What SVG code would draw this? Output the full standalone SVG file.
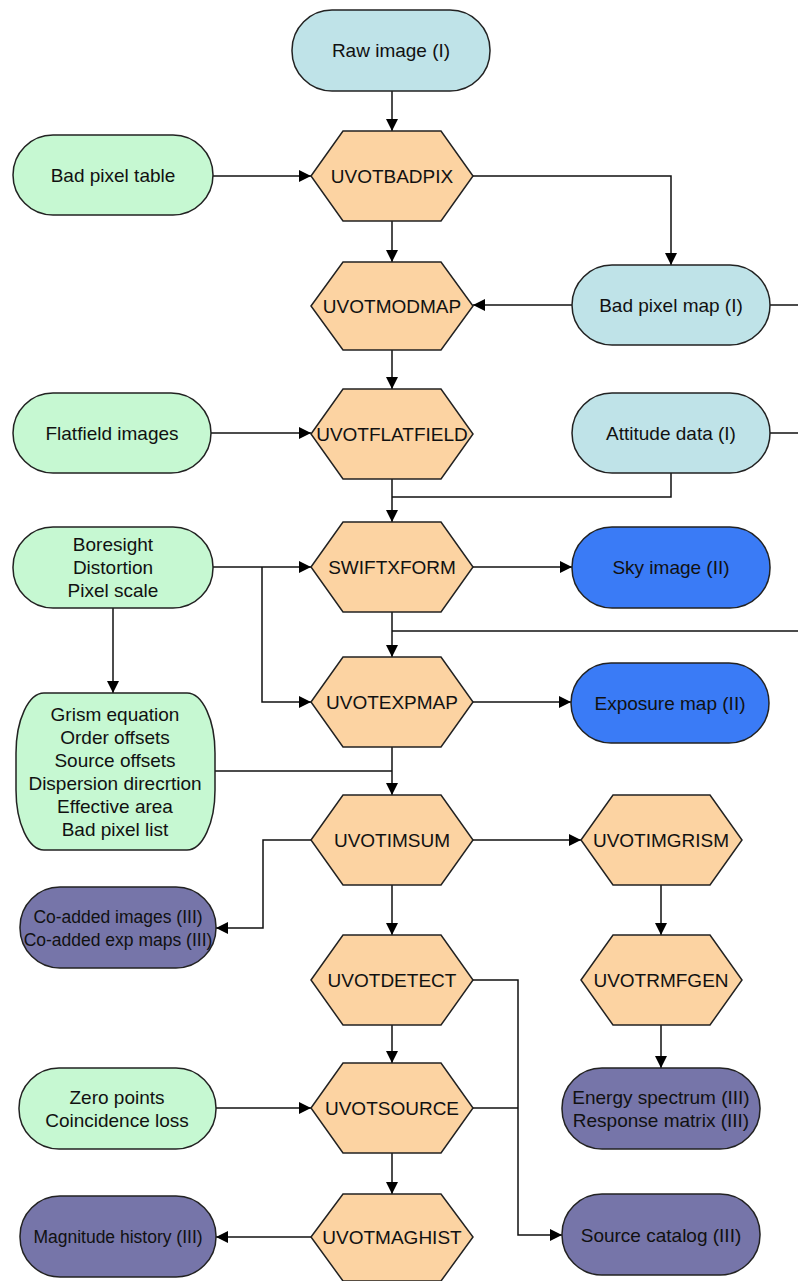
<svg xmlns="http://www.w3.org/2000/svg" width="798" height="1281" viewBox="0 0 798 1281">
<defs>
<marker id="ah" viewBox="0 0 12 12" refX="12" refY="6" markerWidth="12" markerHeight="12" markerUnits="userSpaceOnUse" orient="auto">
<path d="M0,0 L12,6 L0,12 Z" fill="#000"/>
</marker>
<style>
.in{fill:#bfe3e8;stroke:#222;stroke-width:1.5}
.gr{fill:#c6f8d2;stroke:#222;stroke-width:1.5}
.bl{fill:#3a7bf6;stroke:#222;stroke-width:1.5}
.pu{fill:#7675a9;stroke:#222;stroke-width:1.5}
.hx{fill:#fcd3a2;stroke:#222;stroke-width:1.5}
text{font-family:"Liberation Sans",Arial,sans-serif;font-size:19px;fill:#111;text-anchor:middle;dominant-baseline:central}
.sm{font-size:17.5px}
.c path{fill:none;stroke:#111;stroke-width:1.5}
.c .a{marker-end:url(#ah)}
</style>
</defs>
<g class="c" id="connectors">
<path class="a" d="M392,91 V131"/>
<path class="a" d="M213,176 H311"/>
<path class="a" d="M473,176 H671 V265"/>
<path class="a" d="M392,221 V262"/>
<path class="a" d="M572,305 H473"/>
<path d="M770,305 H798"/>
<path class="a" d="M392,350 V389"/>
<path class="a" d="M211,433 H311"/>
<path d="M770,433 H798"/>
<path class="a" d="M392,479 V522"/>
<path d="M671,473 V497 H392"/>
<path class="a" d="M213,567 H311"/>
<path class="a" d="M262,567 V702 H311"/>
<path class="a" d="M113,608 V693"/>
<path class="a" d="M473,567 H572"/>
<path class="a" d="M392,612 V657"/>
<path d="M392,631 H798"/>
<path class="a" d="M473,702 H571"/>
<path class="a" d="M392,747 V795"/>
<path d="M215,771 H392"/>
<path class="a" d="M473,840 H581"/>
<path class="a" d="M311,840 H263 V928 H216"/>
<path class="a" d="M392,885 V935"/>
<path class="a" d="M661,885 V935"/>
<path class="a" d="M661,1025 V1068"/>
<path class="a" d="M473,980 H518 V1235 H562"/>
<path d="M473,1108 H518"/>
<path class="a" d="M392,1025 V1063"/>
<path class="a" d="M216,1108 H311"/>
<path class="a" d="M392,1153 V1194"/>
<path class="a" d="M311,1237 H216"/>
</g>
<g id="raw"><rect class="in" x="292" y="10" width="198" height="81" rx="40"/><text x="391" y="50">Raw image (I)</text></g>
<g id="badpixtable"><rect class="gr" x="13" y="135" width="200" height="80" rx="40"/><text x="113" y="175">Bad pixel table</text></g>
<g id="uvotbadpix"><polygon class="hx" points="311,176 343,131 441,131 473,176 441,221 343,221"/><text x="392" y="176">UVOTBADPIX</text></g>
<g id="badpixmap"><rect class="in" x="572" y="265" width="198" height="80" rx="40"/><text x="671" y="305">Bad pixel map (I)</text></g>
<g id="uvotmodmap"><polygon class="hx" points="311,306 343,262 441,262 473,306 441,350 343,350"/><text x="392" y="306">UVOTMODMAP</text></g>
<g id="flatfieldimages"><rect class="gr" x="13" y="393" width="198" height="80" rx="40"/><text x="112" y="433">Flatfield images</text></g>
<g id="uvotflatfield"><polygon class="hx" points="311,434 343,389 441,389 473,434 441,479 343,479"/><text x="392" y="434">UVOTFLATFIELD</text></g>
<g id="attitude"><rect class="in" x="572" y="393" width="198" height="80" rx="40"/><text x="671" y="433">Attitude data (I)</text></g>
<g id="boresight"><rect class="gr" x="13" y="527" width="200" height="81" rx="40"/><text x="113" y="544">Boresight</text><text x="113" y="567">Distortion</text><text x="113" y="590">Pixel scale</text></g>
<g id="swiftxform"><polygon class="hx" points="311,567 343,522 441,522 473,567 441,612 343,612"/><text x="392" y="567">SWIFTXFORM</text></g>
<g id="skyimage"><rect class="bl" x="572" y="527" width="198" height="81" rx="40"/><text x="671" y="567">Sky image (II)</text></g>
<g id="grism"><rect class="gr" x="16" y="693" width="199" height="157" rx="28" ry="60"/><text x="115" y="714">Grism equation</text><text x="115" y="737">Order offsets</text><text x="115" y="760">Source offsets</text><text x="115" y="783">Dispersion direcrtion</text><text x="115" y="806">Effective area</text><text x="115" y="829">Bad pixel list</text></g>
<g id="uvotexpmap"><polygon class="hx" points="311,702 343,657 441,657 473,702 441,747 343,747"/><text x="392" y="702">UVOTEXPMAP</text></g>
<g id="expmap"><rect class="bl" x="571" y="663" width="198" height="80" rx="40"/><text x="670" y="703">Exposure map (II)</text></g>
<g id="uvotimsum"><polygon class="hx" points="311,840 343,795 441,795 473,840 441,885 343,885"/><text x="392" y="840">UVOTIMSUM</text></g>
<g id="uvotimgrism"><polygon class="hx" points="581,840 613,795 710,795 742,840 710,885 613,885"/><text x="661" y="840">UVOTIMGRISM</text></g>
<g id="coadded"><rect class="pu" x="20" y="887" width="196" height="81" rx="40"/><text class="sm" x="118" y="917">Co-added images (III)</text><text class="sm" x="118" y="940">Co-added exp maps (III)</text></g>
<g id="uvotdetect"><polygon class="hx" points="311,980 343,935 441,935 473,980 441,1025 343,1025"/><text x="392" y="980">UVOTDETECT</text></g>
<g id="uvotrmfgen"><polygon class="hx" points="581,980 613,935 710,935 742,980 710,1025 613,1025"/><text x="661" y="980">UVOTRMFGEN</text></g>
<g id="zeropoints"><rect class="gr" x="19" y="1068" width="197" height="81" rx="40"/><text x="117" y="1097">Zero points</text><text x="117" y="1120">Coincidence loss</text></g>
<g id="uvotsource"><polygon class="hx" points="311,1108 343,1063 441,1063 473,1108 441,1153 343,1153"/><text x="392" y="1108">UVOTSOURCE</text></g>
<g id="energy"><rect class="pu" x="562" y="1068" width="198" height="81" rx="40"/><text x="661" y="1097">Energy spectrum (III)</text><text x="661" y="1120">Response matrix (III)</text></g>
<g id="maghist"><rect class="pu" x="20" y="1196" width="196" height="81" rx="40"/><text class="sm" x="118" y="1237">Magnitude history (III)</text></g>
<g id="uvotmaghist"><polygon class="hx" points="311,1237 343,1194 441,1194 473,1237 441,1281 343,1281"/><text x="392" y="1237">UVOTMAGHIST</text></g>
<g id="sourcecat"><rect class="pu" x="562" y="1194" width="198" height="81" rx="40"/><text x="661" y="1235">Source catalog (III)</text></g>
</svg>
